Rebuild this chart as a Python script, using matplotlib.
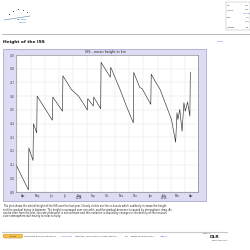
import matplotlib
matplotlib.use("Agg")
import matplotlib.pyplot as plt
import matplotlib.transforms as mtransforms
import pandas as pd
from matplotlib.patches import Rectangle, FancyBboxPatch

# ---------------- data ----------------
dates = ["2015-03-31", "2015-04-26", "2015-04-27", "2015-05-06", "2015-05-07",
         "2015-05-14", "2015-05-15", "2015-06-17", "2015-06-18", "2015-07-09",
         "2015-07-10", "2015-07-28", "2015-08-13", "2015-08-27", "2015-09-01",
         "2015-09-02", "2015-09-14", "2015-09-15", "2015-09-30", "2015-10-01",
         "2015-10-21", "2015-10-22", "2015-11-11", "2015-11-25", "2015-12-10",
         "2015-12-11", "2015-12-24", "2015-12-29", "2016-01-17", "2016-01-18",
         "2016-01-26", "2016-02-06", "2016-02-20", "2016-03-02", "2016-03-11",
         "2016-03-14", "2016-03-16", "2016-03-20", "2016-03-25", "2016-03-29",
         "2016-04-01", "2016-04-06", "2016-04-11", "2016-04-12"]
heights = [410.93, 409.15, 412.21, 411.30, 413.98,
           413.32, 416.00, 414.24, 415.93, 414.90,
           417.48, 416.50, 416.00, 415.27, 414.98,
           415.82, 415.27, 415.93, 415.08, 418.46,
           417.38, 418.10, 416.50, 415.27, 414.05,
           417.73, 416.63, 416.55, 415.40, 417.60,
           417.11, 416.50, 415.27, 414.29, 412.63,
           414.79, 414.29, 415.03, 413.43, 415.52,
           414.90, 415.57, 414.54, 417.75]
month_labels = ["Apr", "May", "Jun", "Jul", "Aug", "Sep", "Oct", "Nov",
                "Dec", "Jan", "Feb", "Mar", "Apr"]
year_labels = ["2015", "2016"]
year_label_dates = ["2015-08-15", "2016-02-15"]
y_ticks = [409, 410, 411, 412, 413, 414, 415, 416, 417, 418, 419]
chart_title = "ISS - mean height in km"
page_title = "Height of the ISS"
paragraph = [
    "This plot shows the orbital height of the ISS over the last year. Clearly visible are the re-boosts which suddenly increase the height,",
    "and the gradual decay in between. The height is averaged over one orbit, and the gradual decrease is caused by atmospheric drag. As",
    "can be seen from the plot, the rate of descent is not constant and this variation is caused by changes in the density of the tenuous",
    "outer atmosphere due mainly to solar activity.",
]

W = H = 250.0


def P(x, y):
    return x / W, 1 - y / H


fig = plt.figure(figsize=(2.5, 2.5), dpi=100)
fig.patch.set_facecolor("white")

# ---- header: logo ----
for (dx, dy) in [(9, 15), (13, 12), (18, 10), (23, 11), (27, 13)]:
    fig.patches.append(Rectangle(P(dx, dy), 0.8 / W, 0.8 / H, transform=fig.transFigure,
                                 color="#33557a", lw=0))
fig.text(*P(17, 19), "HEAVENS", fontsize=1.6, color="#3a6ea5", ha="left", va="center")
fig.text(*P(19, 22), "ABOVE", fontsize=1.6, color="#3a6ea5", ha="left", va="center")
fig.add_artist(plt.Line2D([4 / W, 30 / W], [1 - 20 / H, 1 - 16 / H], color="#5b7fae", lw=0.4))

# ---- header: info box ----
fig.patches.append(Rectangle(P(226, 30), 24 / W, 28 / H, transform=fig.transFigure,
                             fill=False, ec="#aaaaaa", lw=0.3))
info = [("User:", "anon", 5), ("Location:", "Unsp", 10), ("", "Lat, Lng", 13.5),
        ("Time:", "12:3", 18), ("", "(UTC)", 21.5), ("Language:", "Eng", 27)]
for lab, val, yy in info:
    if lab:
        fig.text(*P(227, yy), lab, fontsize=1.2, color="#333333", va="center")
    fig.text(*P(249, yy), val, fontsize=1.2,
             color="#2244aa" if ("Lat" in val or "Unsp" in val) else "#333333",
             va="center", ha="right")

# ---- rule ----
fig.add_artist(plt.Line2D([2 / W, 250 / W], [1 - 34 / H, 1 - 34 / H], color="#b0b0b0", lw=0.6))

fig.text(*P(3, 42), page_title, fontsize=3.2, fontweight="bold", color="#111111", va="center")
fig.text(*P(217, 42), "Home", fontsize=1.6, color="#3355bb", va="center")

# ---- chart panel ----
fig.patches.append(Rectangle(P(3, 201), 203 / W, 152 / H, transform=fig.transFigure,
                             fc="#dcdcf4", ec="#a9a9cf", lw=0.6, zorder=0))
fig.text(*P(105, 51.8), chart_title, fontsize=2.4, color="#222222", ha="center", va="center")

left, right, top, bottom = 16, 197.7, 55, 192
ax = fig.add_axes([left / W, 1 - bottom / H, (right - left) / W, (bottom - top) / H])
ax.set_zorder(5)
ax.set_facecolor("white")

x = pd.to_datetime(dates)
ax.plot(x, heights, color="#333333", lw=0.45)

ax.set_xlim(pd.Timestamp("2015-03-30"), pd.Timestamp("2016-04-28"))
ax.set_ylim(min(y_ticks), max(y_ticks))
ax.set_yticks(y_ticks)
ax.set_yticklabels([str(v) for v in y_ticks])

month_starts = pd.date_range("2015-04-01", periods=13, freq="MS")
label_pos = month_starts + pd.Timedelta(days=14)
ax.set_xticks(label_pos)
ax.set_xticklabels(month_labels)
ax.set_xticks(month_starts, minor=True)
ax.grid(True, which="minor", axis="x", color="#e6e6e6", lw=0.35)
ax.grid(True, which="major", axis="y", color="#e6e6e6", lw=0.35)
ax.set_axisbelow(True)
ax.tick_params(axis="both", which="both", length=0, labelsize=1.9, colors="#333333", pad=1.2)
for s in ax.spines.values():
    s.set_color("#777777")
    s.set_linewidth(0.4)

trans = mtransforms.blended_transform_factory(ax.transData, ax.transAxes)
for lab, d in zip(year_labels, year_label_dates):
    ax.text(pd.Timestamp(d), -0.045, lab, transform=trans, fontsize=1.9, color="#333333",
            ha="center", va="center")

# ---- paragraph ----
for i, line in enumerate(paragraph):
    fig.text(*P(3, 206.3 + i * 3.4), line, fontsize=1.85, color="#222222", va="center")

# ---- footer ----
fig.add_artist(plt.Line2D([2 / W, 227 / W], [1 - 232 / H, 1 - 232 / H], color="#c8c8c8", lw=0.8))
fig.patches.append(FancyBboxPatch(P(3.3, 237.8), 19 / W, 3.4 / H, transform=fig.transFigure,
                                  boxstyle="round,pad=0.001,rounding_size=0.006",
                                  fc="#f5c04a", ec="#b88a1c", lw=0.3))
fig.text(*P(12.8, 236.1), "Donate", fontsize=1.4, color="#333333", ha="center", va="center")
fig.text(*P(24, 236), "Developed and maintained by ", fontsize=1.5, color="#333333", va="center")
fig.text(*P(61, 236), "Chris Peat", fontsize=1.5, color="#3355bb", va="center")
fig.text(*P(74, 236), ", Heavens-Above GmbH. Please read the ", fontsize=1.5, color="#333333", va="center")
fig.text(*P(125, 236), "FAQ", fontsize=1.5, color="#3355bb", va="center")
fig.text(*P(130.5, 236), " before sending e-mail.", fontsize=1.5, color="#333333", va="center")
fig.text(*P(160, 236), "Imprint", fontsize=1.5, color="#3355bb", va="center")
fig.text(*P(203, 233), "Hosted by", fontsize=1.1, color="#333333", va="center")
fig.text(*P(210, 236.5), "DLR", fontsize=3.2, fontweight="bold", color="#222222", va="center")
fig.text(*P(212, 240), "Raumfahrtmanagement", fontsize=0.9, color="#333333", va="center")

fig.savefig("out.png", dpi=100, facecolor="white")
